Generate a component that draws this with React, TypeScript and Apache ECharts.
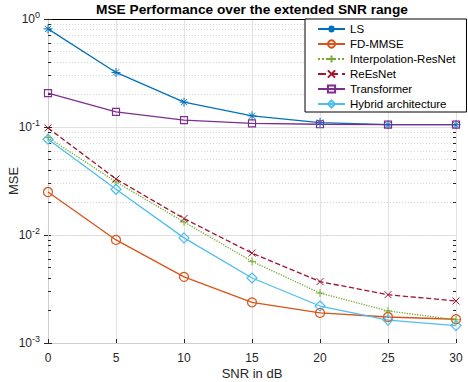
import React, { useEffect, useRef } from "react";
import * as echarts from "echarts";

const snr = [0, 5, 10, 15, 20, 25, 30];
const lsMse = [0.81, 0.32, 0.17, 0.127, 0.11, 0.105, 0.105];
const fdMmse = [0.025, 0.009, 0.0041, 0.00238, 0.0019, 0.00174, 0.00166];
const interpResNet = [0.08, 0.031, 0.0132, 0.0057, 0.0029, 0.00198, 0.00164];
const reEsNet = [0.098, 0.033, 0.0142, 0.0068, 0.0037, 0.0028, 0.00245];
const transformer = [0.206, 0.138, 0.116, 0.108, 0.106, 0.105, 0.105];
const hybrid = [0.077, 0.0265, 0.0094, 0.004, 0.0022, 0.00163, 0.00145];

const yDecades = [0.001, 0.01, 0.1, 1];
const minorMultipliers = [2, 3, 4, 5, 6, 7, 8, 9];

const xName = "SNR in dB";
const yName = "MSE";

const FONT = "Liberation Sans, Arial, Helvetica, sans-serif";
const TXT = "#262626";

const asterisk =
  "path://M5,0L5,10M0,5L10,5M1.6,1.6L8.4,8.4M1.6,8.4L8.4,1.6";
const plus = "path://M5,0L5,10M0,5L10,5";
const cross = "path://M0,0L10,10M0,10L10,0";

function pairs(vals: number[]) {
  return snr.map((s, i) => [s, vals[i]]);
}

export default function App() {
  const ref = useRef<HTMLDivElement>(null);
  useEffect(() => {
    if (!ref.current) return;
    const chart = echarts.init(ref.current, null, { renderer: "svg" });

    const minorVals: number[] = [];
    for (let d = 0; d < yDecades.length - 1; d++) {
      for (const m of minorMultipliers) minorVals.push(+(yDecades[d] * m).toPrecision(3));
    }

    const mk = (
      name: string,
      vals: number[],
      color: string,
      symbol: string,
      type: string,
      size: number,
      hollow: boolean
    ) => ({
      name,
      type: "line",
      data: pairs(vals),
      symbol,
      symbolSize: size,
      showAllSymbol: true,
      lineStyle: { color, width: 1.3, type },
      itemStyle: hollow
        ? { color: "rgba(255,255,255,0)", borderColor: color, borderWidth: 1.2 }
        : { color: "rgba(255,255,255,0)", borderColor: color, borderWidth: 1 },
      z: 5,
    });

    const option: any = {
      animation: false,
      backgroundColor: "#fff",
      title: {
        text: "MSE Performance over the extended SNR range",
        left: 252,
        textAlign: "center",
        top: 2,
        padding: 0,
        textStyle: { fontFamily: FONT, fontSize: 13.7, fontWeight: "bold", color: "#000" },
      },
      graphic: [
        {
          type: "text",
          x: 252,
          y: 373,
          style: {
            text: xName,
            fontFamily: FONT,
            fontSize: 13,
            fill: TXT,
            align: "center",
            verticalAlign: "middle",
          },
        },
        {
          type: "text",
          x: 13,
          y: 181,
          rotation: Math.PI / 2,
          style: {
            text: yName,
            fontFamily: FONT,
            fontSize: 13,
            fill: TXT,
            align: "center",
            verticalAlign: "middle",
          },
        },
      ],
      grid: {
        left: 48,
        right: 12,
        top: 19,
        bottom: 39,
        containLabel: false,
        outerBoundsMode: "none",
      },
      legend: {
        orient: "vertical",
        left: 305,
        top: 19,
        padding: [4, 11, 2, 12],
        itemWidth: 27,
        itemHeight: 9,
        itemGap: 3,
        backgroundColor: "#fff",
        borderColor: "#000",
        borderWidth: 1,
        textStyle: { fontFamily: FONT, fontSize: 11.5, lineHeight: 12, color: "#000" },
        data: ["LS", "FD-MMSE", "Interpolation-ResNet", "ReEsNet", "Transformer", "Hybrid architecture"],
        z: 10,
      },
      xAxis: [
        {
          type: "value",
          position: "bottom",
          min: 0,
          max: 30,
          interval: 5,
          axisLine: { show: true, lineStyle: { color: "#d0d0d0" } },
          axisTick: { show: true, inside: true, length: 4, lineStyle: { color: "#262626" } },
          axisLabel: { fontFamily: FONT, fontSize: 12, color: TXT, margin: 9 },
          splitLine: { show: true, lineStyle: { color: "#e2e2e2", width: 1 } },
        },
        {
          type: "value",
          position: "top",
          min: 0,
          max: 30,
          interval: 5,
          axisLine: { show: true, lineStyle: { color: "#000", width: 1 } },
          axisTick: { show: false },
          axisLabel: { show: false },
          splitLine: { show: false },
        },
      ],
      yAxis: [
        {
          type: "log",
          logBase: 10,
          min: 0.001,
          max: 1,
          position: "left",
          axisLine: { show: true, lineStyle: { color: "#d0d0d0" } },
          axisTick: { show: true, inside: true, length: 4, lineStyle: { color: "#262626" } },
          axisLabel: {
            fontFamily: FONT,
            fontSize: 12,
            color: TXT,
            margin: 8,
            formatter: (v: number) => {
              const e = Math.round(Math.log10(v));
              return "10{s|" + e + "}";
            },
            rich: {
              s: { fontFamily: FONT, fontSize: 9, color: TXT, verticalAlign: "top", padding: [0, 0, 8, 0] },
            },
          },
          splitLine: { show: true, lineStyle: { color: "#e2e2e2", width: 1 } },
        },
        {
          type: "log",
          logBase: 10,
          min: 0.001,
          max: 1,
          position: "right",
          axisLine: { show: true, lineStyle: { color: "#d0d0d0" } },
          axisTick: { show: true, inside: true, length: 4, lineStyle: { color: "#262626" } },
          axisLabel: { show: false },
          splitLine: { show: false },
        },
      ],
      series: [
        {
          name: "_grid",
          type: "line",
          data: [],
          silent: true,
          markLine: {
            silent: true,
            symbol: "none",
            label: { show: false },
            lineStyle: { color: "#d6d6d6", type: [1, 2], width: 1 },
            data: [
              ...minorVals.map((v) => ({ yAxis: v })),
              ...minorVals.map((v) => [
                { coord: [0, v], lineStyle: { color: "#262626", type: "solid", width: 1 } },
                { coord: [0.22, v] },
              ]),
              ...minorVals.map((v) => [
                { coord: [29.78, v], lineStyle: { color: "#262626", type: "solid", width: 1 } },
                { coord: [30, v] },
              ]),
            ],
          },
        },
        mk("LS", lsMse, "#0072BD", asterisk, "solid", 9, false),
        mk("FD-MMSE", fdMmse, "#D95319", "circle", "solid", 9, true),
        mk("Interpolation-ResNet", interpResNet, "#77AC30", plus, "dotted", 8, false),
        mk("ReEsNet", reEsNet, "#A2142F", cross, "dashed", 7, false),
        mk("Transformer", transformer, "#7E2F8E", "rect", "solid", 7, true),
        mk("Hybrid architecture", hybrid, "#4DBEEE", "diamond", "solid", 10, true),
      ],
    };
    chart.setOption(option);
    return () => chart.dispose();
  }, []);
  return (
    <div
      ref={ref}
      style={{ position: "fixed", left: 0, top: 0, width: 468, height: 382 }}
    />
  );
}
